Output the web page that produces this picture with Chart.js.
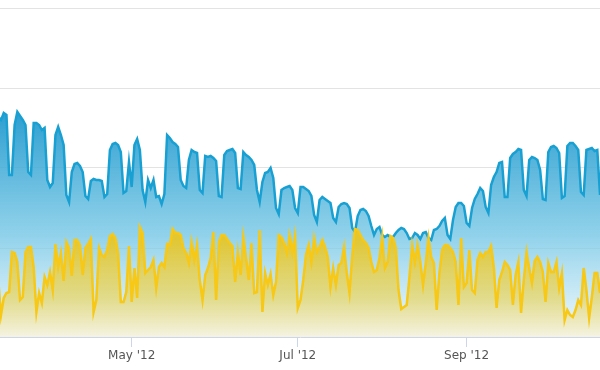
<!DOCTYPE html>
<html>
<head>
<meta charset="utf-8">
<script src="https://cdn.jsdelivr.net/npm/chart.js@4"></script>
<style>
  html, body { margin: 0; padding: 0; background: #fff; }
  #wrap { width: 600px; height: 370px; position: relative; }
</style>
</head>
<body>
<div id="wrap"><canvas id="chart"></canvas></div>
<script>
// day offsets are counted from 1 May 2012; first point is 13 Mar 2012
const firstDay = -49;

// blue series, one value a day (rows of 7 start on a Tuesday)
const visits = [
  211, 208, 215, 213, 153, 153, 203,
  216, 212, 208, 203, 156, 153, 205,
  205, 203, 198, 200, 148, 141, 145,
  193, 201, 193, 183, 133, 126, 156,
  164, 165, 162, 156, 132, 129, 147,
  149, 148, 148, 147, 131, 134, 178,
  184, 185, 183, 176, 135, 137, 166,
  141, 183, 189, 178, 138, 126, 148,
  140, 148, 131, 132, 124, 134, 193,
  190, 186, 184, 181, 148, 142, 140,
  168, 178, 176, 175, 138, 135, 172,
  171, 172, 170, 167, 132, 131, 173,
  177, 178, 179, 175, 140, 139, 176,
  173, 171, 168, 163, 138, 126, 146,
  155, 156, 160, 150, 120, 114, 138,
  140, 141, 142, 138, 120, 115, 141,
  141, 139, 137, 132, 113, 106, 128,
  131, 129, 127, 125, 110, 106, 121,
  124, 125, 124, 120, 100, 96, 112,
  118, 119, 117, 112, 102, 93, 99,
  101, 93, 91, 93, 91, 91, 95,
  98, 100, 99, 95, 89, 90, 95,
  93, 89, 95, 96, 90, 88, 98,
  99, 102, 107, 110, 93, 89, 108,
  121, 125, 125, 122, 105, 102, 120,
  129, 134, 140, 137, 121, 115, 143,
  151, 156, 165, 166, 131, 131, 170,
  174, 176, 179, 178, 138, 132, 168,
  171, 170, 168, 158, 129, 128, 176,
  181, 182, 180, 175, 130, 132, 182,
  185, 185, 182, 178, 136, 133, 178,
  179, 180, 177, 178, 133
];

// yellow series
const conversions = [
  48, 13, 30, 35, 36, 76, 75,
  66, 28, 31, 76, 81, 81, 61,
  16, 35, 25, 51, 43, 56, 38,
  84, 61, 75, 47, 86, 80, 52,
  88, 88, 83, 53, 80, 84, 89,
  16, 28, 80, 73, 71, 78, 92,
  94, 90, 75, 26, 26, 36, 82,
  26, 60, 30, 101, 95, 55, 58,
  61, 68, 40, 61, 65, 61, 84,
  83, 99, 95, 95, 93, 80, 75,
  65, 86, 68, 83, 48, 28, 53,
  60, 70, 96, 28, 86, 93, 93,
  89, 85, 82, 46, 76, 53, 91,
  70, 48, 85, 35, 36, 98, 16,
  55, 43, 54, 33, 46, 93, 91,
  85, 75, 93, 76, 92, 20, 28,
  48, 73, 83, 66, 90, 76, 81,
  88, 81, 71, 41, 60, 43, 63,
  65, 81, 55, 35, 73, 99, 98,
  93, 88, 85, 80, 66, 56, 58,
  70, 91, 60, 66, 92, 90, 80,
  38, 19, 21, 23, 51, 83, 66,
  83, 66, 43, 65, 90, 71, 65,
  18, 55, 78, 83, 83, 80, 76,
  66, 23, 90, 41, 45, 78, 38,
  35, 68, 75, 71, 76, 76, 82,
  61, 20, 48, 56, 66, 63, 58,
  23, 53, 66, 15, 48, 76, 60,
  45, 67, 71, 66, 56, 26, 65,
  56, 56, 66, 40, 55, 8, 18,
  13, 11, 18, 28, 23, 60, 38,
  10, 31, 55, 55, 35
];

const tickDays = [0, 61, 123];
const tickLabels = ["May '12", "Jul '12", "Sep '12"];
const gridValues = [0, 80, 160, 240, 320];

const toPoints = arr => arr.map((v, i) => ({ x: firstDay + i, y: v }));

function vGradient(ctx, chartArea, stops) {
  const g = ctx.createLinearGradient(0, chartArea.top, 0, chartArea.bottom);
  stops.forEach(s => g.addColorStop(s[0], s[1]));
  return g;
}

const blueFill = (c) => {
  const { ctx, chartArea } = c.chart;
  if (!chartArea) return 'rgba(40,160,210,0.5)';
  return vGradient(ctx, chartArea, [
    [0.30, 'rgba(27,150,204,0.95)'],
    [0.70, 'rgba(120,200,230,0.8)'],
    [1.00, 'rgba(225,242,250,0.6)'],
  ]);
};

const yellowFill = (c) => {
  const { ctx, chartArea } = c.chart;
  if (!chartArea) return 'rgba(230,200,40,0.6)';
  return vGradient(ctx, chartArea, [
    [0.70, 'rgba(230,198,40,0.95)'],
    [0.88, 'rgba(228,216,120,0.85)'],
    [1.00, 'rgba(245,243,225,0.95)'],
  ]);
};

new Chart(document.getElementById('chart'), {
  type: 'line',
  data: {
    datasets: [
      {
        label: 'Conversions',
        data: toPoints(conversions),
        borderColor: '#f7c815',
        backgroundColor: yellowFill,
        borderWidth: 2.5,
        pointRadius: 0,
        fill: 'start',
        tension: 0,
        order: 1,
      },
      {
        label: 'Visits',
        data: toPoints(visits),
        borderColor: '#19a0d2',
        backgroundColor: blueFill,
        borderWidth: 2.5,
        pointRadius: 0,
        fill: 'start',
        tension: 0,
        order: 2,
      },
    ],
  },
  options: {
    responsive: true,
    maintainAspectRatio: false,
    animation: false,
    layout: { padding: { top: 8, left: 0, right: 0, bottom: 0 } },
    plugins: { legend: { display: false }, tooltip: { enabled: false } },
    scales: {
      x: {
        type: 'linear',
        min: -48.37,
        max: 171.99,
        afterBuildTicks(scale) {
          scale.ticks = tickDays.map(v => ({ value: v }));
        },
        afterFit(scale) { scale.height = 33; },
        ticks: {
          autoSkip: false,
          maxRotation: 0,
          padding: 2,
          color: '#555',
          font: { family: 'DejaVu Sans', size: 12 },
          callback(v) {
            const i = tickDays.indexOf(v);
            return i >= 0 ? tickLabels[i] : '';
          },
        },
        grid: {
          drawOnChartArea: false,
          drawTicks: true,
          tickLength: 10,
          color: '#ccd6eb',
        },
        border: { display: true, color: '#ccd6eb', width: 1 },
      },
      y: {
        min: -9,
        max: 320,
        afterBuildTicks(scale) {
          scale.ticks = gridValues.map(v => ({ value: v }));
        },
        afterFit(scale) { scale.width = 0; },
        ticks: { display: false },
        grid: { color: '#e3e3e3', drawTicks: false },
        border: { display: false },
      },
    },
  },
});
</script>
</body>
</html>
